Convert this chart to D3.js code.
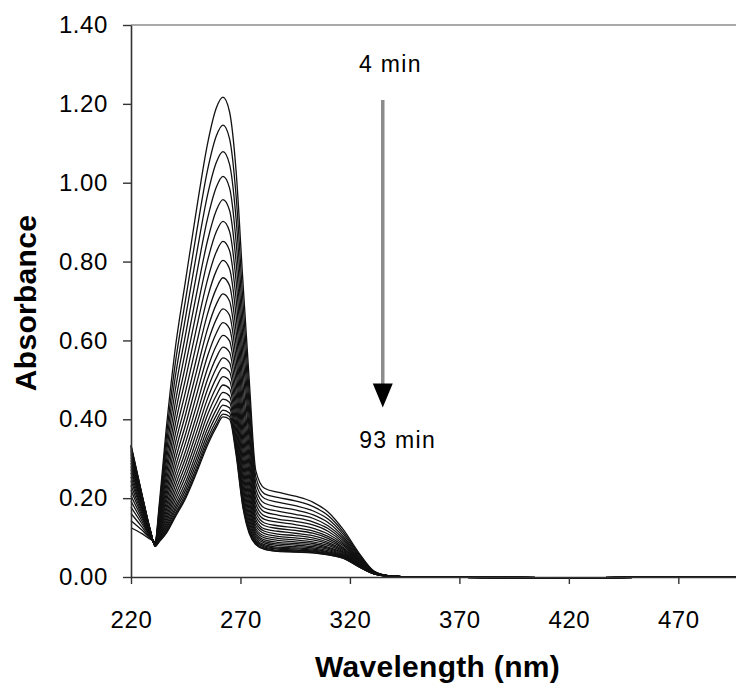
<!DOCTYPE html>
<html>
<head>
<meta charset="utf-8">
<script src="https://cdn.jsdelivr.net/npm/d3@7"></script>
<style>
  body { margin: 0; background: #fff; }
  text { font-family: "Liberation Sans", Arial, sans-serif; fill: #000; }
  .tick text { font-size: 24px; letter-spacing: 0.6px; }
  .axis-label { font-size: 30px; font-weight: bold; letter-spacing: 0.3px; }
  .note { font-size: 23px; letter-spacing: 1.3px; }
</style>
</head>
<body>
<svg id="chart" width="736" height="684"></svg>
<script>
// DATA: UV-vis spectra recorded from 4 min to 93 min
const wavelengths = [220, 225, 229, 231, 233, 236, 240, 245, 250, 255, 259, 262, 265, 268, 271,
                     274, 277, 281, 287, 295, 303, 310, 317, 324, 331, 338, 350, 420, 500];

const times = [4, 8, 12, 16, 19, 23, 27, 31, 35, 39, 43, 46, 50, 54, 58, 62, 66, 70, 73, 77, 81, 85, 89, 93];

// one row of absorbance values per time, matching wavelengths
const spectra = [
  [.125,.110,.095,.090,.190,.370,.570,.755,.935,1.100,1.190,1.217,1.180,1.030,.760,.500,.270,.225,.215,.205,.190,.165,.120,.062,.015,.003,0,-.002,.001],
  [.143,.119,.097,.089,.181,.347,.533,.706,.876,1.033,1.119,1.146,1.112,.967,.709,.466,.254,.211,.202,.193,.179,.156,.114,.059,.014,.003,0,-.002,.001],
  [.161,.127,.098,.088,.173,.326,.499,.661,.821,.970,1.052,1.079,1.047,.908,.661,.434,.238,.199,.190,.181,.168,.147,.108,.056,.014,.003,0,-.002,.001],
  [.177,.135,.100,.087,.165,.306,.466,.617,.769,.910,.989,1.016,.987,.851,.616,.403,.223,.187,.178,.170,.158,.138,.102,.053,.013,.003,0,-.002,.001],
  [.192,.142,.101,.086,.158,.287,.435,.577,.720,.854,.930,.957,.930,.799,.574,.375,.210,.175,.167,.159,.149,.130,.097,.050,.013,.003,0,-.002,.001],
  [.206,.149,.103,.085,.151,.269,.407,.540,.675,.803,.876,.902,.877,.751,.535,.349,.197,.165,.157,.150,.140,.123,.092,.048,.012,.003,0,-.002,.001],
  [.220,.155,.104,.085,.145,.253,.381,.505,.633,.755,.825,.851,.828,.705,.498,.324,.185,.155,.147,.141,.132,.116,.087,.046,.012,.003,0,-.002,.001],
  [.232,.161,.105,.084,.139,.237,.356,.472,.593,.710,.777,.803,.782,.663,.464,.301,.174,.146,.139,.133,.124,.109,.083,.044,.011,.003,0,-.002,.001],
  [.244,.167,.106,.083,.134,.223,.333,.441,.556,.668,.732,.759,.739,.623,.432,.280,.164,.137,.130,.125,.117,.103,.079,.042,.011,.003,0,-.002,.001],
  [.254,.172,.107,.083,.129,.210,.312,.414,.523,.630,.692,.718,.700,.587,.403,.260,.154,.130,.123,.118,.111,.098,.075,.040,.011,.003,0,-.002,.001],
  [.264,.176,.108,.082,.124,.198,.292,.388,.492,.594,.654,.680,.664,.553,.376,.242,.146,.122,.116,.111,.105,.093,.072,.038,.010,.003,0,-.002,.001],
  [.273,.181,.109,.082,.120,.187,.274,.364,.463,.561,.619,.645,.630,.522,.351,.225,.138,.116,.109,.105,.099,.088,.069,.037,.010,.003,0,-.002,.001],
  [.281,.185,.110,.081,.116,.176,.257,.342,.436,.530,.587,.613,.599,.494,.328,.209,.130,.110,.103,.099,.094,.084,.066,.035,.010,.002,0,-.002,.001],
  [.289,.188,.111,.081,.112,.167,.242,.321,.411,.502,.557,.583,.570,.467,.306,.195,.123,.104,.098,.094,.089,.080,.063,.034,.010,.002,0,-.002,.001],
  [.296,.192,.111,.080,.109,.158,.228,.303,.389,.477,.530,.556,.544,.443,.287,.182,.117,.099,.093,.089,.085,.076,.061,.033,.009,.002,0,-.002,.001],
  [.303,.195,.112,.080,.105,.150,.215,.286,.368,.453,.505,.531,.520,.421,.269,.170,.111,.094,.088,.085,.081,.073,.058,.032,.009,.002,0,-.002,.001],
  [.309,.197,.112,.080,.103,.143,.203,.270,.349,.431,.482,.508,.498,.401,.253,.159,.106,.090,.084,.081,.077,.070,.056,.031,.009,.002,0,-.002,.001],
  [.314,.200,.113,.079,.100,.136,.192,.256,.332,.412,.461,.487,.478,.382,.238,.149,.101,.086,.080,.077,.074,.067,.054,.030,.009,.002,0,-.002,.001],
  [.319,.202,.113,.079,.098,.130,.182,.242,.316,.393,.442,.468,.459,.365,.224,.140,.096,.082,.076,.074,.071,.064,.053,.029,.009,.002,0,-.002,.001],
  [.323,.205,.114,.079,.096,.124,.173,.231,.302,.377,.425,.451,.443,.350,.212,.131,.092,.079,.073,.071,.068,.062,.051,.028,.008,.002,0,-.002,.001],
  [.327,.206,.114,.078,.094,.120,.166,.221,.290,.363,.410,.436,.429,.337,.202,.124,.089,.076,.071,.068,.066,.060,.050,.027,.008,.002,0,-.002,.001],
  [.331,.208,.115,.078,.092,.115,.159,.212,.279,.351,.397,.423,.416,.325,.192,.118,.086,.073,.068,.066,.064,.058,.049,.027,.008,.002,0,-.002,.001],
  [.333,.209,.115,.078,.091,.112,.154,.205,.271,.342,.387,.413,.407,.317,.185,.114,.084,.071,.066,.064,.062,.057,.048,.026,.008,.002,0,-.002,.001],
  [.335,.210,.115,.078,.090,.110,.150,.200,.265,.335,.380,.406,.400,.310,.180,.110,.082,.070,.065,.063,.061,.056,.047,.026,.008,.002,0,-.002,.001]
];

const xTicks = [220, 270, 320, 370, 420, 470];
const yTicks = [0, 0.2, 0.4, 0.6, 0.8, 1.0, 1.2, 1.4];

// arrow annotation (wavelength, absorbance)
const arrowFrom = [335, 1.21];
const arrowTo = [335, 0.43];

// SETUP
const svg = d3.select("#chart");
const plot = { left: 131, right: 744, top: 25, bottom: 577 };

const x = d3.scaleLinear().domain([220, 500]).range([plot.left, plot.right]);
const y = d3.scaleLinear().domain([0, 1.4]).range([plot.bottom, plot.top]);

// SPECTRA
const line = d3.line()
    .x(d => x(d.w))
    .y(d => y(d.a))
    .curve(d3.curveMonotoneX);

svg.append("g")
  .selectAll("path")
  .data(spectra.map(row => wavelengths.map((w, j) => ({ w, a: row[j] }))))
  .join("path")
    .attr("d", line)
    .attr("fill", "none")
    .attr("stroke", "#111")
    .attr("stroke-width", 1.3);

// FRAME (top edge)
svg.append("line")
    .attr("x1", x(220)).attr("x2", x(500))
    .attr("y1", y(1.4)).attr("y2", y(1.4))
    .attr("stroke", "#555")
    .attr("stroke-width", 1.2);

// AXES
const xAxis = svg.append("g")
    .attr("transform", `translate(0,${y(0)})`)
    .call(d3.axisBottom(x).tickValues(xTicks).tickSize(7).tickPadding(27).tickSizeOuter(0));

const yAxis = svg.append("g")
    .attr("transform", `translate(${x(220)},0)`)
    .call(d3.axisLeft(y).tickValues(yTicks).tickSize(8).tickPadding(15)
        .tickSizeOuter(0).tickFormat(d3.format(".2f")));

[xAxis, yAxis].forEach(g => {
  g.select(".domain").attr("stroke", "#333").attr("stroke-width", 1.6);
  g.selectAll(".tick line").attr("stroke", "#333").attr("stroke-width", 1.4);
  g.selectAll(".tick text").attr("fill", "#000");
});

// AXIS LABELS
svg.append("text")
    .attr("class", "axis-label")
    .attr("text-anchor", "middle")
    .attr("x", (plot.left + plot.right) / 2)
    .attr("y", 677)
    .text("Wavelength (nm)");

svg.append("text")
    .attr("class", "axis-label")
    .attr("text-anchor", "middle")
    .attr("transform", `translate(36,${(plot.top + plot.bottom) / 2 + 2}) rotate(-90)`)
    .text("Absorbance");

// TIME ARROW
svg.append("line")
    .attr("x1", x(arrowFrom[0])).attr("y1", y(arrowFrom[1]))
    .attr("x2", x(arrowTo[0])).attr("y2", y(arrowTo[1]) - 22)
    .attr("stroke", "#8c8c8c")
    .attr("stroke-width", 3.5);

const tipX = x(arrowTo[0]), tipY = y(arrowTo[1]);
svg.append("path")
    .attr("d", `M${tipX - 10},${tipY - 24}L${tipX + 10},${tipY - 24}L${tipX},${tipY}Z`)
    .attr("fill", "#000");

svg.append("text")
    .attr("class", "note")
    .attr("text-anchor", "middle")
    .attr("x", x(338.5))
    .attr("y", y(1.281))
    .text(`${times[0]} min`);

svg.append("text")
    .attr("class", "note")
    .attr("text-anchor", "middle")
    .attr("x", x(341.8))
    .attr("y", y(0.327))
    .text(`${times[times.length - 1]} min`);
</script>
</body>
</html>
